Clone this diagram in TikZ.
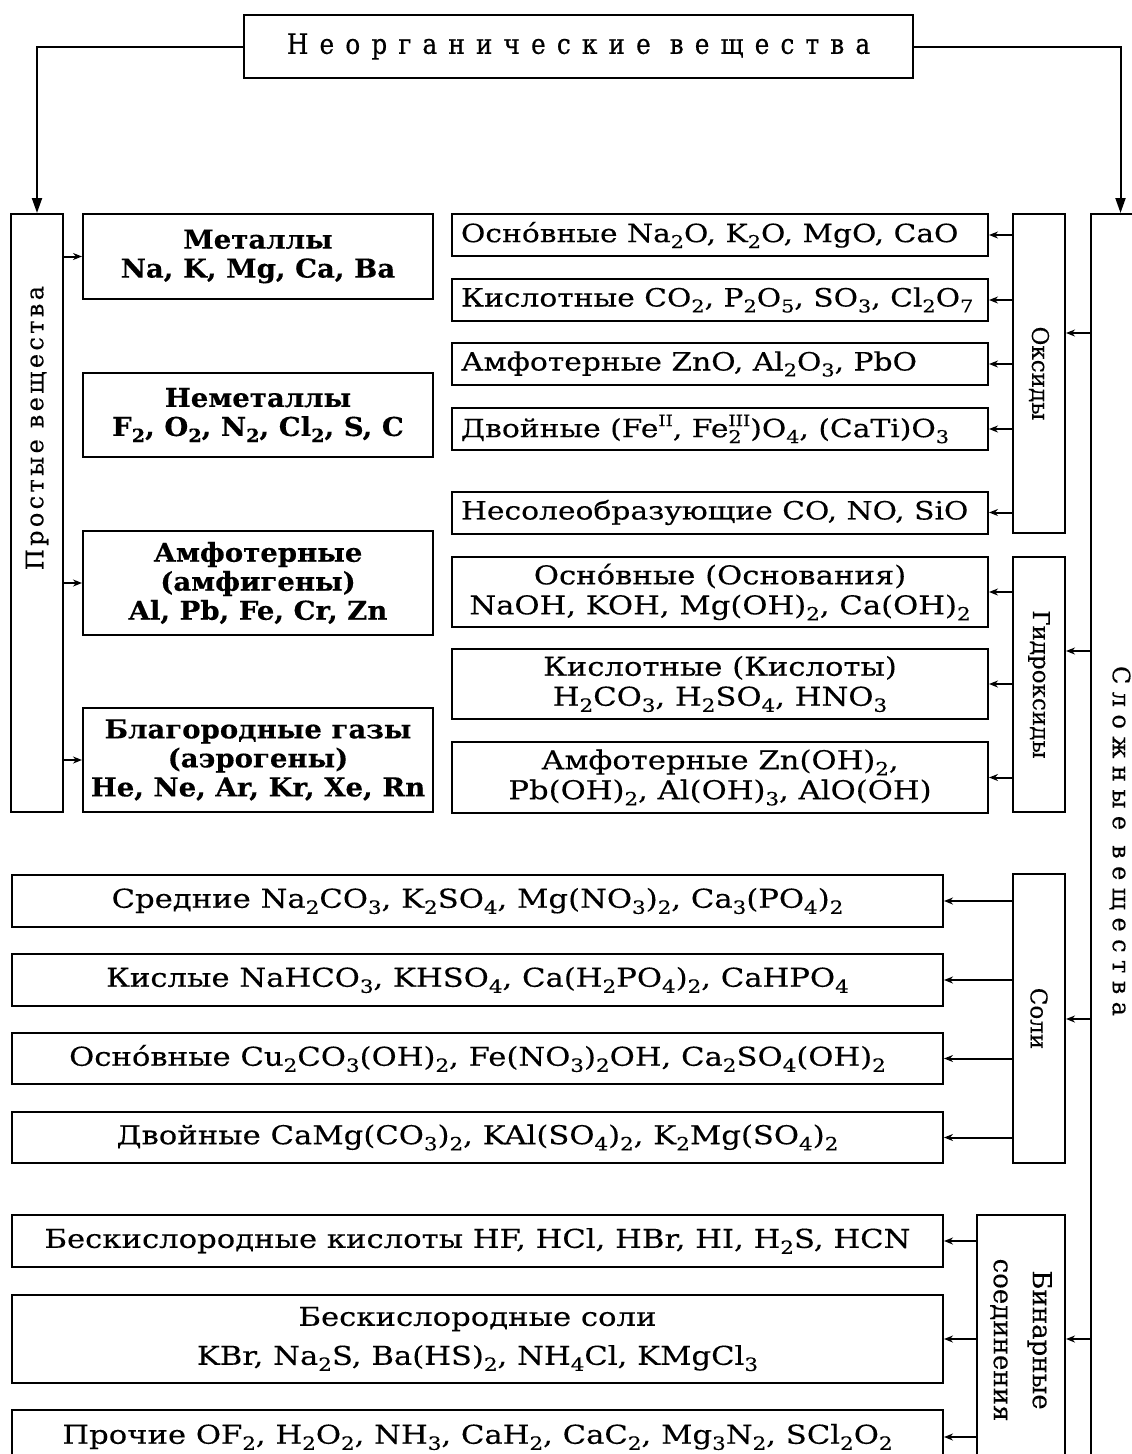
\documentclass[tikz,border=0pt]{standalone}
\usepackage{fontspec}
\setmainfont{DejaVu Serif}[FakeStretch=1.18, FakeBold=0.25, BoldFeatures={FakeStretch=1.06}]
\newfontfamily\plainf{DejaVu Serif}[FakeBold=0.25]
\newfontfamily\titlef{DejaVu Serif}[FakeStretch=0.88, FakeBold=0.6, LetterSpace=40]
\newfontfamily\sidef{DejaVu Serif}[FakeBold=0.2]
\usetikzlibrary{arrows.meta}
\newcommand\lo[1]{\raisebox{-0.45ex}{\scalebox{0.7}{#1}}}
\newcommand\hi[1]{\raisebox{0.85ex}{\scalebox{0.62}{#1}}}
\newcommand\lohi[2]{\rlap{\lo{#2}}\hi{#1}}
\newcommand\ox[1]{\makebox[518pt][l]{#1}}
\newcommand\mainsz{\fontsize{26}{29}\selectfont}
\tikzset{
  box/.style={draw, line width=2pt, inner sep=0pt, align=center, font=\mainsz},
  leftbox/.style={box, minimum width=350, font=\mainsz\bfseries},
  oxbox/.style={box, minimum height=42, inner xsep=9pt, font=\fontsize{25.2}{28}\selectfont},
  hybox/.style={box, minimum width=536, font=\fontsize{26}{30}\selectfont},
  saltbox/.style={box, minimum width=931},
  catbox/.style={box, minimum width=52},
  vlabel/.style={rotate=-90, font=\plainf\fontsize{23}{26}\selectfont, align=center},
  sarr/.style={line width=2pt, -{Stealth[length=9pt,width=7pt]}},
  tarr/.style={line width=2pt, -{Triangle[length=15pt,width=10pt]}},
}
\begin{document}
\begin{tikzpicture}[x=1pt,y=-1pt]
\useasboundingbox (0,0) rectangle (1132,1454);
\clip (0,0) rectangle (1132,1454);
\fill[white] (0,0) rectangle (1132,1454);

% top
\node[box, minimum width=669, minimum height=63,
  font=\titlef\fontsize{28}{30}\selectfont] (top) at (578.5,46.5) {Неорганические вещества};

% simple substances
\node[catbox, minimum height=598] (prost) at (37,513) {};
\node[rotate=90, font=\sidef\fontsize{24}{26}\selectfont\addfontfeature{LetterSpace=14}] (prostlbl) at (37,428) {Простые вещества};

\node[leftbox, minimum height=85] (met) at (258,256.5) {Металлы\\Na, K, Mg, Ca, Ba};
\node[leftbox, minimum height=84] (nemet) at (258,415) {Неметаллы\\F\lo2, O\lo2, N\lo2, Cl\lo2, S, C};
\node[leftbox, minimum height=104] (amf) at (258,583) {Амфотерные\\(амфигены)\\Al, Pb, Fe, Cr, Zn};
\node[leftbox, minimum height=104] (blag) at (258,760) {Благородные газы\\(аэрогены)\\He, Ne, Ar, Kr, Xe, Rn};

% complex substances
\node[box, minimum width=59, minimum height=1256] (slozh) at (1120.5,842) {};
\node[rotate=-90, font=\sidef\fontsize{24}{26}\selectfont\addfontfeature{LetterSpace=31}] (slozhlbl) at (1120,841) {Сложные вещества};

% oxides
\node[catbox, minimum height=319] (oks) at (1039,373.5) {};
\node[vlabel] (okslbl) at (oks.center) {Оксиды};
\node[oxbox] (ox1) at (720,235) {\ox{Осно́вные Na\lo2O, K\lo2O, MgO, CaO}};
\node[oxbox] (ox2) at (720,300) {\ox{Кислотные CO\lo2, P\lo2O\lo5, SO\lo3, Cl\lo2O\lo7}};
\node[oxbox] (ox3) at (720,364) {\ox{Амфотерные ZnO, Al\lo2O\lo3, PbO}};
\node[oxbox] (ox4) at (720,429) {\ox{Двойные (Fe\hi{II}, Fe\lohi{III}{2})O\lo4, (CaTi)O\lo3}};
\node[oxbox] (ox5) at (720,512.5) {\ox{Несолеобразующие CO, NO, SiO}};

% hydroxides
\node[catbox, minimum height=255] (gidr) at (1039,684.5) {};
\node[vlabel] (gidrlbl) at (gidr.center) {Гидроксиды};
\node[hybox, minimum height=70] (hy1) at (720,592) {Осно́вные (Основания)\\NaOH, KOH, Mg(OH)\lo2, Ca(OH)\lo2};
\node[hybox, minimum height=70] (hy2) at (720,684) {Кислотные (Кислоты)\\H\lo2CO\lo3, H\lo2SO\lo4, HNO\lo3};
\node[hybox, minimum height=71] (hy3) at (720,777.5) {Амфотерные Zn(OH)\lo2,\\Pb(OH)\lo2, Al(OH)\lo3, AlO(OH)};

% salts
\node[catbox, minimum height=289] (soli) at (1039,1018.5) {};
\node[vlabel] (solilbl) at (soli.center) {Соли};
\node[saltbox, minimum height=52] (s1) at (477.5,901) {Средние Na\lo2CO\lo3, K\lo2SO\lo4, Mg(NO\lo3)\lo2, Ca\lo3(PO\lo4)\lo2};
\node[saltbox, minimum height=52] (s2) at (477.5,980) {Кислые NaHCO\lo3, KHSO\lo4, Ca(H\lo2PO\lo4)\lo2, CaHPO\lo4};
\node[saltbox, minimum height=51] (s3) at (477.5,1058.5) {Осно́вные Cu\lo2CO\lo3(OH)\lo2, Fe(NO\lo3)\lo2OH, Ca\lo2SO\lo4(OH)\lo2};
\node[saltbox, minimum height=51] (s4) at (477.5,1137.5) {Двойные CaMg(CO\lo3)\lo2, KAl(SO\lo4)\lo2, K\lo2Mg(SO\lo4)\lo2};

% binary
\node[box, minimum width=88, minimum height=255] (bin) at (1021,1342.5) {};
\node[vlabel, font=\plainf\fontsize{26}{39}\selectfont] (binlbl) at (1021,1340) {Бинарные\\соединения};
\node[saltbox, minimum height=52] (b1) at (477.5,1241) {Бескислородные кислоты HF, HCl, HBr, HI, H\lo2S, HCN};
\node[saltbox, minimum height=88, font=\fontsize{26}{39}\selectfont] (b2) at (477.5,1339) {Бескислородные соли\\KBr, Na\lo2S, Ba(HS)\lo2, NH\lo4Cl, KMgCl\lo3};
\node[saltbox, minimum height=54] (b3) at (477.5,1437) {Прочие OF\lo2, H\lo2O\lo2, NH\lo3, CaH\lo2, CaC\lo2, Mg\lo3N\lo2, SCl\lo2O\lo2};

% top connectors
\draw[tarr] (top.west) -| (prost.north);
\draw[tarr] (top.east) -| (slozh.north);

% simple substances connectors
\foreach \t in {met,amf,blag}
  \draw[sarr] (prost.east |- \t.west) -- (\t.west);

% complex to categories
\draw[sarr] (slozh.west |- {(0,333)}) -- (oks.east |- {(0,333)});
\draw[sarr] (slozh.west |- {(0,651)}) -- (gidr.east |- {(0,651)});
\draw[sarr] (slozh.west |- {(0,1019)}) -- (soli.east |- {(0,1019)});
\draw[sarr] (slozh.west |- {(0,1339)}) -- (bin.east |- {(0,1339)});

% categories to items
\foreach \t in {ox1,ox2,ox3,ox4,ox5}
  \draw[sarr] (oks.west |- \t.east) -- (\t.east);
\foreach \t in {hy1,hy2,hy3}
  \draw[sarr] (gidr.west |- \t.east) -- (\t.east);
\foreach \t in {s1,s2,s3,s4}
  \draw[sarr] (soli.west |- \t.east) -- (\t.east);
\foreach \t in {b1,b2,b3}
  \draw[sarr] (bin.west |- \t.east) -- (\t.east);
\end{tikzpicture}
\end{document}
